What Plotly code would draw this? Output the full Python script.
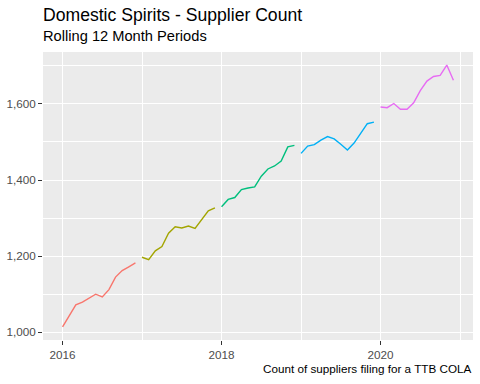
import plotly.graph_objects as go

years = [2016, 2017, 2018, 2019, 2020]
months = list(range(1, 13))
colors = ["#F8766D", "#A3A500", "#00BF7D", "#00B0F6", "#E76BF3"]

counts_2016 = [1014, 1044, 1072, 1079, 1090, 1100, 1093, 1112, 1145, 1162, 1172, 1182]
counts_2017 = [1197, 1191, 1214, 1225, 1260, 1277, 1274, 1279, 1273, 1297, 1319, 1327]
counts_2018 = [1330, 1349, 1354, 1375, 1379, 1382, 1410, 1429, 1437, 1450, 1487, 1491]
counts_2019 = [1470, 1489, 1493, 1505, 1514, 1508, 1494, 1479, 1497, 1524, 1548, 1552]
counts_2020 = [1592, 1590, 1601, 1586, 1586, 1603, 1635, 1660, 1672, 1675, 1702, 1662]
series = [counts_2016, counts_2017, counts_2018, counts_2019, counts_2020]

x_ticks = [2016, 2018, 2020]
y_ticks = [1000, 1200, 1400, 1600]

fig = go.Figure()
for yr, vals, col in zip(years, series, colors):
    xs = [yr + (m - 1) / 12 for m in months]
    fig.add_trace(go.Scatter(x=xs, y=vals, mode="lines",
                             line=dict(color=col, width=1.4),
                             showlegend=False, hoverinfo="skip"))

W, H = 480, 384
ml, mr, mt, mb = 43, 7.3, 52, 43.7
ph = H - mt - mb

def py(pix):
    return (H - mb - pix) / ph

fig.update_layout(
    width=W, height=H,
    margin=dict(l=ml, r=mr, t=mt, b=mb, pad=0, autoexpand=False),
    paper_bgcolor="white", plot_bgcolor="#EBEBEB",
    font=dict(family="Liberation Sans, Arial, sans-serif", color="#4D4D4D", size=11.7),
    xaxis=dict(range=[2015.754, 2021.163], tickvals=x_ticks, ticktext=[str(v) for v in x_ticks],
               showgrid=True, gridcolor="white", gridwidth=1.1, zeroline=False,
               ticks="outside", ticklen=4, tickcolor="#333333", tickwidth=1.1,
               tickfont=dict(size=11.7, color="#4D4D4D"), automargin=False,
               minor=dict(tickvals=[2017, 2019, 2021], showgrid=True, gridcolor="white", gridwidth=0.55, ticks=""),
               showline=False, fixedrange=True),
    yaxis=dict(range=[979.6, 1736.4], tickvals=y_ticks, tickformat=",d",
               showgrid=True, gridcolor="white", gridwidth=1.1, zeroline=False,
               ticks="outside", ticklen=4, tickcolor="#333333", tickwidth=1.1,
               tickfont=dict(size=11.7, color="#4D4D4D"), automargin=False,
               minor=dict(tickvals=[1100, 1300, 1500, 1700], showgrid=True, gridcolor="white", gridwidth=0.55, ticks=""),
               showline=False, fixedrange=True),
    annotations=[
        dict(text="Domestic Spirits - Supplier Count", xref="paper", yref="paper",
             x=0, xshift=-2, y=py(14.5), xanchor="left", yanchor="middle", showarrow=False,
             font=dict(size=17.6, color="black")),
        dict(text="Rolling 12 Month Periods", xref="paper", yref="paper",
             x=0, xshift=-2, y=py(36), xanchor="left", yanchor="middle", showarrow=False,
             font=dict(size=14.67, color="black")),
        dict(text="Count of suppliers filing for a TTB COLA", xref="paper", yref="paper",
             x=1, xshift=1, y=py(369), xanchor="right", yanchor="middle", showarrow=False,
             font=dict(size=11.7, color="black")),
    ],
)

fig.write_html("out.html", config={"displayModeBar": False},
               post_script="document.body.style.margin='0';document.body.style.padding='0';")
